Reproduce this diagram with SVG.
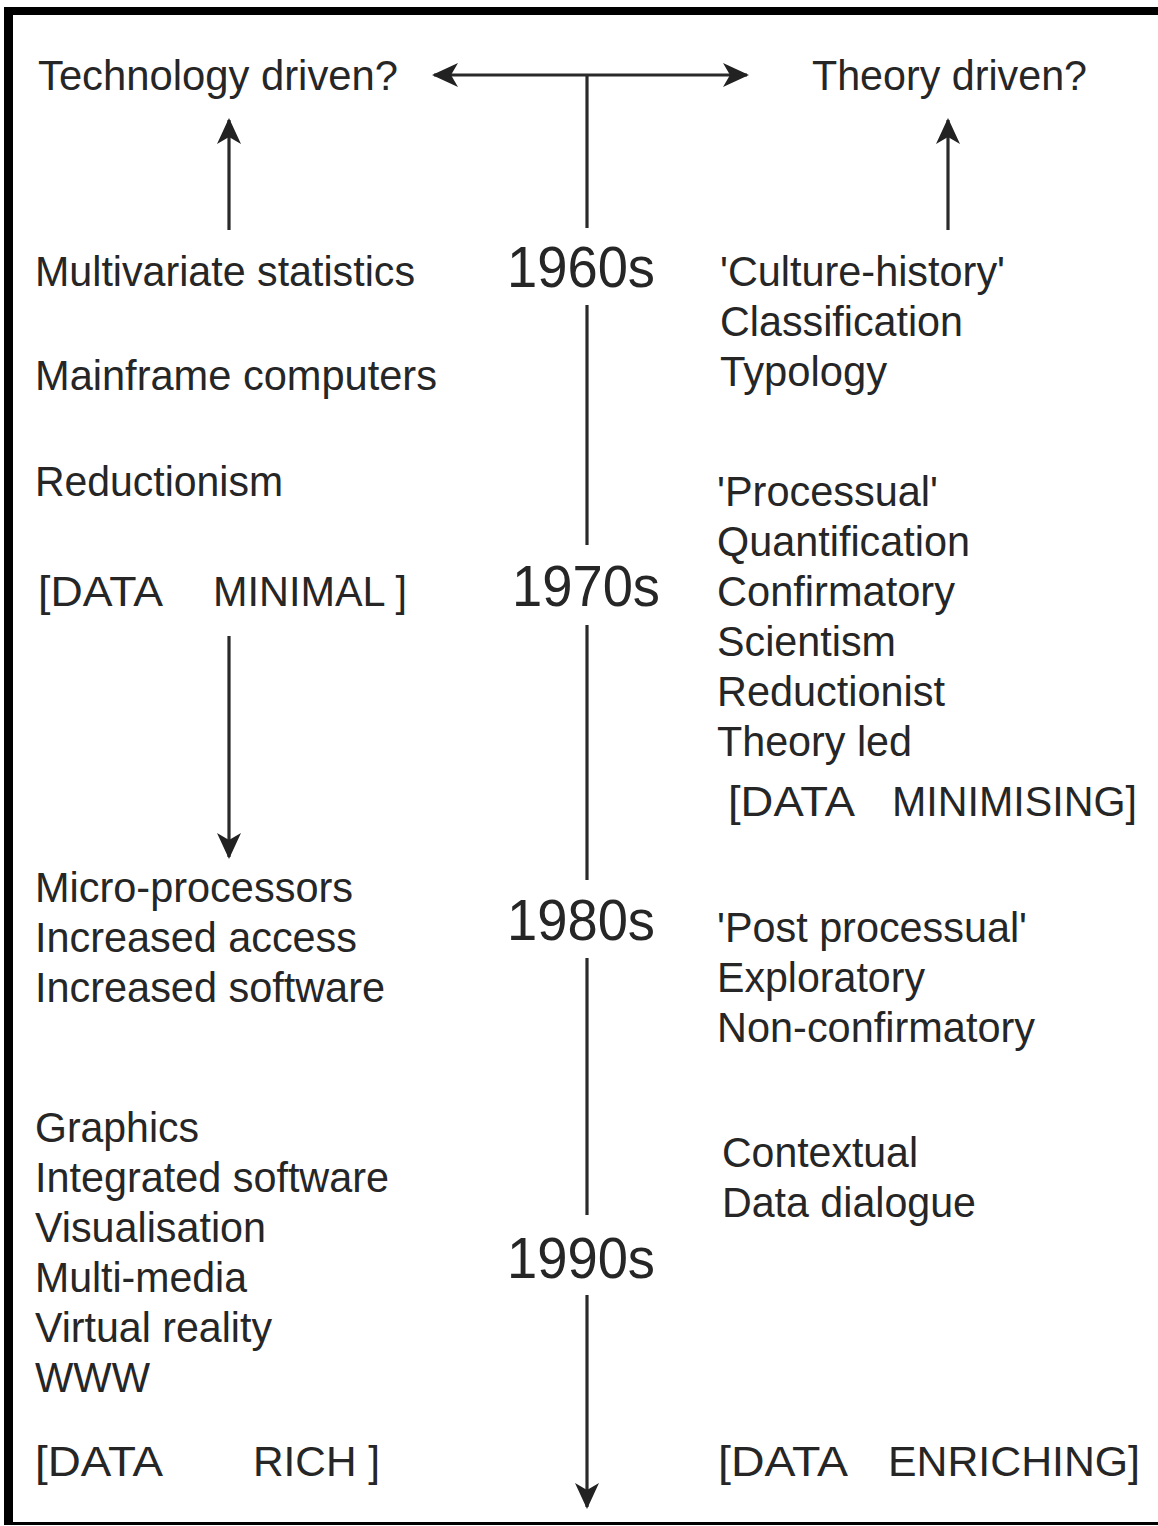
<svg xmlns="http://www.w3.org/2000/svg" width="1158" height="1526" viewBox="0 0 1158 1526">
<style>
text{font-family:"Liberation Sans",Arial,sans-serif;fill:#262626;font-size:43px}
.yr{font-size:58px}
.ln{stroke:#2a2a2a;stroke-width:3.2;fill:none}
</style>
<defs>
<marker id="ah" viewBox="0 0 26 26" refX="24" refY="13" markerWidth="26" markerHeight="26" markerUnits="userSpaceOnUse" orient="auto">
<path d="M0,1 L26,13 L0,25 L7,13 Z" fill="#222"/>
</marker>
</defs>
<rect x="0" y="0" width="1158" height="1526" fill="#fff"/>
<g id="frame" fill="#000">
<rect x="4" y="7" width="1154" height="8"/>
<rect x="4" y="7" width="9" height="1518"/>
<rect x="4" y="1522" width="1154" height="3"/>
</g>
<g id="connectors">
<line class="ln" x1="587" y1="75" x2="434" y2="75" marker-end="url(#ah)"/>
<line class="ln" x1="587" y1="75" x2="747" y2="75" marker-end="url(#ah)"/>
<line class="ln" x1="587" y1="75" x2="587" y2="228"/>
<line class="ln" x1="587" y1="305" x2="587" y2="545"/>
<line class="ln" x1="587" y1="625" x2="587" y2="880"/>
<line class="ln" x1="587" y1="958" x2="587" y2="1215"/>
<line class="ln" x1="587" y1="1295" x2="587" y2="1507" marker-end="url(#ah)"/>
<line class="ln" x1="229" y1="230" x2="229" y2="120" marker-end="url(#ah)"/>
<line class="ln" x1="948" y1="230" x2="948" y2="120" marker-end="url(#ah)"/>
<line class="ln" x1="229" y1="636" x2="229" y2="857" marker-end="url(#ah)"/>
</g>
<g id="header-left"><text x="38" y="90" textLength="360" lengthAdjust="spacingAndGlyphs">Technology driven?</text></g>
<g id="header-right"><text x="812" y="90" textLength="275" lengthAdjust="spacingAndGlyphs">Theory driven?</text></g>
<g id="decades">
<text class="yr" x="507" y="287" textLength="148" lengthAdjust="spacingAndGlyphs">1960s</text>
<text class="yr" x="512" y="606" textLength="148" lengthAdjust="spacingAndGlyphs">1970s</text>
<text class="yr" x="507" y="940" textLength="148" lengthAdjust="spacingAndGlyphs">1980s</text>
<text class="yr" x="507" y="1278" textLength="148" lengthAdjust="spacingAndGlyphs">1990s</text>
</g>
<g id="tech-1960s">
<text x="35" y="286" textLength="380" lengthAdjust="spacingAndGlyphs">Multivariate statistics</text>
<text x="35" y="390" textLength="402" lengthAdjust="spacingAndGlyphs">Mainframe computers</text>
<text x="35" y="496" textLength="248" lengthAdjust="spacingAndGlyphs">Reductionism</text>
</g>
<g id="data-minimal">
<text x="38" y="606" textLength="125" lengthAdjust="spacingAndGlyphs">[DATA</text>
<text x="213" y="606" textLength="194" lengthAdjust="spacingAndGlyphs">MINIMAL ]</text>
</g>
<g id="tech-1980s">
<text x="35" y="902" textLength="318" lengthAdjust="spacingAndGlyphs">Micro-processors</text>
<text x="35" y="952" textLength="322" lengthAdjust="spacingAndGlyphs">Increased access</text>
<text x="35" y="1002" textLength="350" lengthAdjust="spacingAndGlyphs">Increased software</text>
</g>
<g id="tech-1990s">
<text x="35" y="1142" textLength="164" lengthAdjust="spacingAndGlyphs">Graphics</text>
<text x="35" y="1192" textLength="354" lengthAdjust="spacingAndGlyphs">Integrated software</text>
<text x="35" y="1242" textLength="231" lengthAdjust="spacingAndGlyphs">Visualisation</text>
<text x="35" y="1292" textLength="212" lengthAdjust="spacingAndGlyphs">Multi-media</text>
<text x="35" y="1342" textLength="237" lengthAdjust="spacingAndGlyphs">Virtual reality</text>
<text x="35" y="1392" textLength="115" lengthAdjust="spacingAndGlyphs">WWW</text>
</g>
<g id="data-rich">
<text x="35" y="1476" textLength="128" lengthAdjust="spacingAndGlyphs">[DATA</text>
<text x="253" y="1476" textLength="127" lengthAdjust="spacingAndGlyphs">RICH ]</text>
</g>
<g id="theory-1960s">
<text x="720" y="286" textLength="285" lengthAdjust="spacingAndGlyphs">'Culture-history'</text>
<text x="720" y="336" textLength="243" lengthAdjust="spacingAndGlyphs">Classification</text>
<text x="720" y="386" textLength="167" lengthAdjust="spacingAndGlyphs">Typology</text>
</g>
<g id="theory-1970s">
<text x="717" y="506" textLength="221" lengthAdjust="spacingAndGlyphs">'Processual'</text>
<text x="717" y="556" textLength="253" lengthAdjust="spacingAndGlyphs">Quantification</text>
<text x="717" y="606" textLength="238" lengthAdjust="spacingAndGlyphs">Confirmatory</text>
<text x="717" y="656" textLength="179" lengthAdjust="spacingAndGlyphs">Scientism</text>
<text x="717" y="706" textLength="228" lengthAdjust="spacingAndGlyphs">Reductionist</text>
<text x="717" y="756" textLength="195" lengthAdjust="spacingAndGlyphs">Theory led</text>
</g>
<g id="data-minimising">
<text x="728" y="816" textLength="127" lengthAdjust="spacingAndGlyphs">[DATA</text>
<text x="892" y="816" textLength="245" lengthAdjust="spacingAndGlyphs">MINIMISING]</text>
</g>
<g id="theory-1980s">
<text x="717" y="942" textLength="310" lengthAdjust="spacingAndGlyphs">'Post processual'</text>
<text x="717" y="992" textLength="208" lengthAdjust="spacingAndGlyphs">Exploratory</text>
<text x="717" y="1042" textLength="318" lengthAdjust="spacingAndGlyphs">Non-confirmatory</text>
</g>
<g id="theory-1990s">
<text x="722" y="1167" textLength="196" lengthAdjust="spacingAndGlyphs">Contextual</text>
<text x="722" y="1217" textLength="254" lengthAdjust="spacingAndGlyphs">Data dialogue</text>
</g>
<g id="data-enriching">
<text x="718" y="1476" textLength="130" lengthAdjust="spacingAndGlyphs">[DATA</text>
<text x="888" y="1476" textLength="252" lengthAdjust="spacingAndGlyphs">ENRICHING]</text>
</g>
</svg>
